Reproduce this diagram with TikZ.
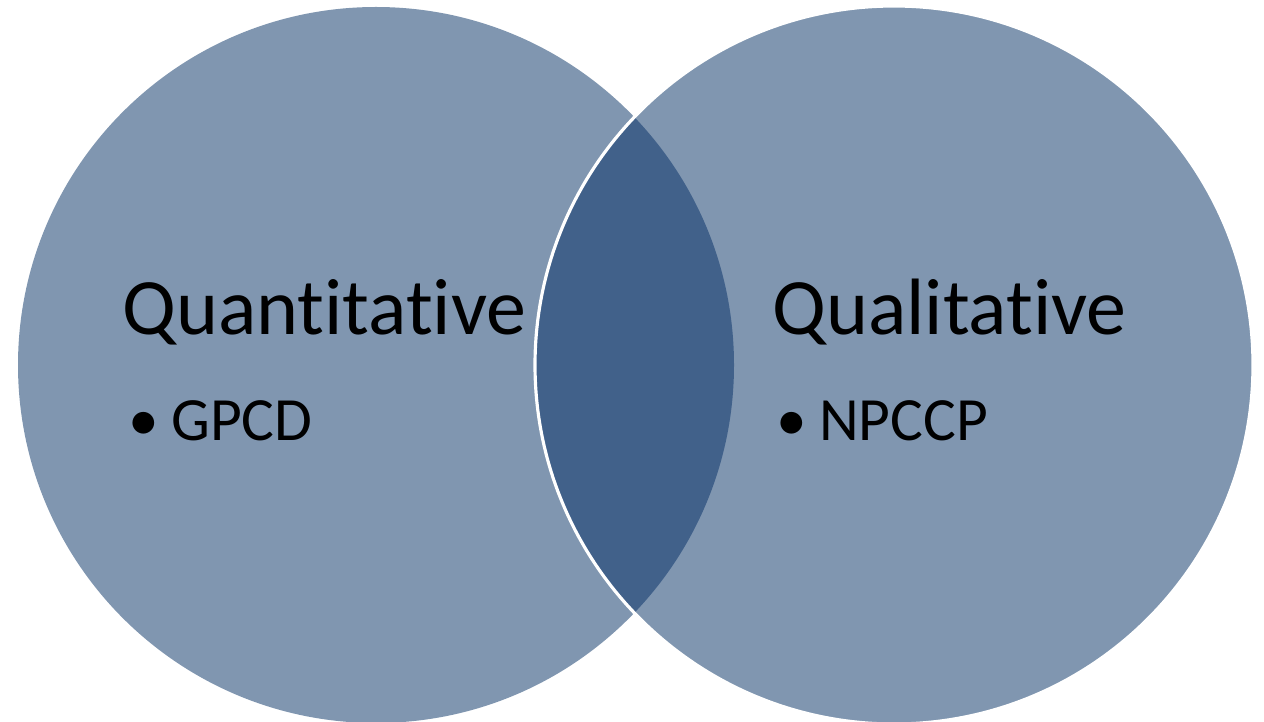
\documentclass[tikz,border=0pt]{standalone}
\usepackage{fontspec}
\setmainfont[Ligatures={NoCommon,NoRare}]{Carlito}
\usepackage{xcolor}
\definecolor{setblue}{HTML}{8096B0}
\definecolor{lensblue}{HTML}{41618A}

\begin{document}
\begin{tikzpicture}[x=0.02cm,y=-0.02cm]
        \useasboundingbox (0,0) rectangle (1264,722);
        % the two sets
        \fill[setblue] (376,365) circle (358);
        \fill[setblue] (894,365) circle (359);
        % overlap
        \begin{scope}
            \clip (376,365) circle (358);
            \fill[lensblue] (894,365) circle (359);
        \end{scope}
        \draw[white,line width=1.8pt] (894,365) circle (359);
        \node[anchor=base west,inner sep=0pt,font=\fontsize{45.5}{50}\selectfont] (quant) at (122,335) {Qua{}n{}t{}i{}t{}a{}t{}i{}ve};
        \node[anchor=base west,inner sep=0pt,font=\fontsize{45.5}{50}\selectfont] (qual) at (772,335) {Qua{}li{}t{}a{}t{}i{}ve};
        \node[anchor=base west,inner sep=0pt,font=\fontsize{35}{40}\selectfont] (gpcd) at (128,441) {\textbullet\hspace{0.2em}GPCD};
        \node[anchor=base west,inner sep=0pt,font=\fontsize{35}{40}\selectfont] (npccp) at (776,441) {\textbullet\hspace{0.2em}NPCCP};
    \end{tikzpicture}
\end{document}
